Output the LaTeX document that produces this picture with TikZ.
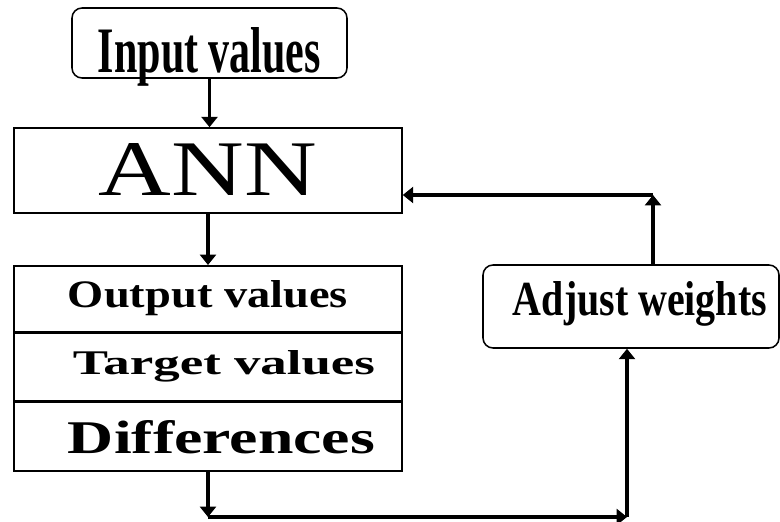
\documentclass[tikz,border=0pt]{standalone}
\usepackage{fontspec}
\setmainfont{Liberation Serif}
\usetikzlibrary{arrows.meta}

\newlength\pxu
\setlength\pxu{0.25mm}
\newcommand\fittxt[3]{\resizebox{#1\pxu}{#2\pxu}{#3}}

\tikzset{
  box/.style={draw, line width=1.1pt, inner sep=0pt},
  rbox/.style={box, rounded corners=2.5mm},
  flow/.style={line width=2.2pt, -{Triangle[length=2.6mm,width=4mm]}}
}

\begin{document}
\begin{tikzpicture}[x=0.25mm, y=-0.25mm]
  \useasboundingbox (0,0) rectangle (780,522);

  % --- Main column ---
  \node[rbox, minimum width=275\pxu, text height=65\pxu, text depth=5\pxu]
    (input) at (209.5,43) {\fittxt{223}{45}{\bfseries Input values}};
  \node[box, minimum width=388\pxu, text height=67\pxu, text depth=18\pxu]
    (ann) at (208,170.5) {\fittxt{218}{52}{ANN}};

  % Stack of results
  \node[box, anchor=north, minimum width=388\pxu, text height=42\pxu, text depth=24\pxu]
    (out) at (208,265) {\fittxt{280}{27}{\bfseries Output values}};
  \node[box, anchor=north, minimum width=388\pxu, text height=41\pxu, text depth=26\pxu]
    (target) at (out.south) {\hspace*{32\pxu}\fittxt{302}{24}{\bfseries Target values}};
  \node[box, anchor=north, minimum width=388\pxu, text height=52\pxu, text depth=17\pxu]
    (diff) at (target.south) {\hspace*{27\pxu}\fittxt{307}{33}{\bfseries Differences}};

  % --- Feedback ---
  \node[rbox, minimum width=296\pxu, text height=50\pxu, text depth=33\pxu]
    (adjust) at (631,306.5) {\hspace*{18\pxu}\fittxt{254}{34}{\bfseries Adjust weights}};

  \coordinate (b1) at (208,517);
  \coordinate (b2) at (627,517);
  \coordinate (t1) at (653,195);

  \draw[flow] (input.south) -- (input.south |- ann.north);
  \draw[flow] (ann.south) -- (out.north);
  \draw[flow] (diff.south) -- (b1);
  \draw[flow] (b1) -- (b2);
  \draw[flow] (b2) -- (b2 |- adjust.south);
  \draw[flow] (t1 |- adjust.north) -- (t1);
  \draw[flow] (t1) -- (t1 -| ann.east);

\end{tikzpicture}
\end{document}
